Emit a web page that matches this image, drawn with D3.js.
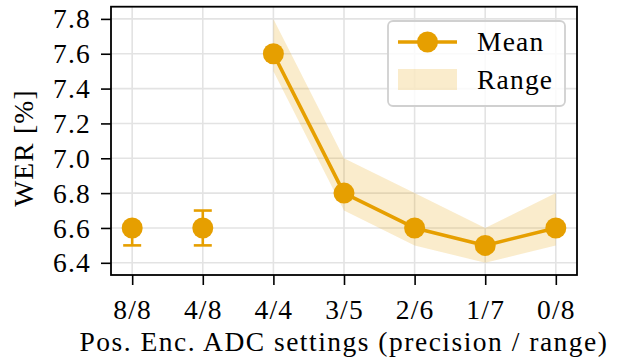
<!DOCTYPE html>
<html><head><meta charset="utf-8">
<script src="https://cdn.jsdelivr.net/npm/d3@7"></script>
<style>
html,body{margin:0;padding:0;background:#fff;}
svg text{font-family:"Liberation Serif","DejaVu Serif","Noto Serif",serif !important;fill:#000;}
</style></head>
<body><svg id="c" width="621" height="360"></svg>
<script>
const categories = ["8/8","4/8","4/4","3/5","2/6","1/7","0/8"];
const yTicks = [6.4,6.6,6.8,7.0,7.2,7.4,7.6,7.8];
// error-bar points
const errCats = ["8/8","4/8"];
const errMean = [6.6, 6.6];
const errLow = [6.5, 6.5];
const errHigh = [6.6, 6.7];
// mean line + range band
const lineCats = ["4/4","3/5","2/6","1/7","0/8"];
const meanVals = [7.6, 6.8, 6.6, 6.5, 6.6];
const rangeLow = [7.5, 6.7, 6.5, 6.4, 6.5];
const rangeHigh = [7.8, 7.0, 6.8, 6.6, 6.8];

const C = "#E69F00";
const L = 111, R = 577, T = 6.7, B = 275;
const svg = d3.select("#c");
const x = d3.scalePoint().domain(categories).range([L, R]).padding(0.3);
const y = d3.scaleLinear().domain([6.33, 7.87]).range([B, T]);
const FS = 27.5;
const LS = 1.2;
const FF = "'Liberation Serif','DejaVu Serif','Noto Serif',serif";

// grid
const g = svg.append("g");
g.selectAll(".gx").data(categories).join("line")
  .attr("x1", d => x(d)).attr("x2", d => x(d)).attr("y1", T).attr("y2", B)
  .attr("stroke", "#e3e3e3").attr("stroke-width", 1.6);
g.selectAll(".gy").data(yTicks).join("line")
  .attr("x1", L).attr("x2", R).attr("y1", d => y(d)).attr("y2", d => y(d))
  .attr("stroke", "#e3e3e3").attr("stroke-width", 1.6);

// band
const bandData = lineCats.map((c, i) => ({c, lo: rangeLow[i], hi: rangeHigh[i], m: meanVals[i]}));
svg.append("path").datum(bandData)
  .attr("d", d3.area().x(d => x(d.c)).y0(d => y(d.lo)).y1(d => y(d.hi)))
  .attr("fill", C).attr("fill-opacity", 0.2);
svg.append("path").datum(bandData)
  .attr("d", d3.line().x(d => x(d.c)).y(d => y(d.m)))
  .attr("fill", "none").attr("stroke", C).attr("stroke-width", 3.6).attr("stroke-linejoin", "round");
svg.selectAll(".mk").data(bandData).join("circle")
  .attr("cx", d => x(d.c)).attr("cy", d => y(d.m)).attr("r", 10.5).attr("fill", C);

// error bars
const errData = errCats.map((c, i) => ({c, m: errMean[i], lo: errLow[i], hi: errHigh[i]}));
const eg = svg.append("g").attr("stroke", C).attr("stroke-width", 2.6);
eg.selectAll(".ev").data(errData).join("line")
  .attr("x1", d => x(d.c)).attr("x2", d => x(d.c)).attr("y1", d => y(d.lo)).attr("y2", d => y(d.hi));
eg.selectAll(".cl").data(errData).join("line")
  .attr("x1", d => x(d.c) - 9).attr("x2", d => x(d.c) + 9).attr("y1", d => y(d.lo)).attr("y2", d => y(d.lo));
eg.selectAll(".ch").data(errData).join("line")
  .attr("x1", d => x(d.c) - 9).attr("x2", d => x(d.c) + 9).attr("y1", d => y(d.hi)).attr("y2", d => y(d.hi));
svg.selectAll(".em").data(errData).join("circle")
  .attr("cx", d => x(d.c)).attr("cy", d => y(d.m)).attr("r", 10.5).attr("fill", C);

// axes
const ax = svg.append("g").attr("transform", `translate(0,${B})`)
  .call(d3.axisBottom(x).tickSize(10).tickPadding(10));
const ay = svg.append("g").attr("transform", `translate(${L},0)`)
  .call(d3.axisLeft(y).tickValues(yTicks).tickFormat(d3.format(".1f")).tickSize(10).tickPadding(10));
[ax, ay].forEach(a => {
  a.attr("font-family", FF);
  a.select(".domain").remove();
  a.selectAll(".tick line").attr("stroke", "#000").attr("stroke-width", 1.6);
  a.selectAll(".tick text").attr("font-family", FF).attr("font-size", FS).attr("fill", "#000").attr("letter-spacing", LS);
});
ax.selectAll(".tick text").attr("dy", "0.88em");
ay.selectAll(".tick text").attr("dy", "0.33em");

// spines
svg.append("rect").attr("x", L).attr("y", T).attr("width", R - L).attr("height", B - T)
  .attr("fill", "none").attr("stroke", "#000").attr("stroke-width", 1.8);

// legend
const lg = svg.append("g").attr("font-family", FF);
lg.append("rect").attr("x", 388).attr("y", 21).attr("width", 177).attr("height", 85).attr("rx", 5)
  .attr("fill", "#fff").attr("fill-opacity", 0.8).attr("stroke", "#d0d0d0").attr("stroke-width", 1.8);
lg.append("line").attr("x1", 398).attr("x2", 457).attr("y1", 42).attr("y2", 42).attr("stroke", C).attr("stroke-width", 3.6);
lg.append("circle").attr("cx", 427.5).attr("cy", 42).attr("r", 10.5).attr("fill", C);
lg.append("rect").attr("x", 398).attr("y", 69).attr("width", 59).attr("height", 21).attr("fill", C).attr("fill-opacity", 0.2);
lg.append("text").attr("x", 477).attr("y", 42).attr("dy", "0.34em").attr("font-size", FS).attr("letter-spacing", LS).text("Mean");
lg.append("text").attr("x", 477).attr("y", 80).attr("dy", "0.34em").attr("font-size", FS).attr("letter-spacing", LS).text("Range");

// axis titles
svg.append("text").attr("x", 344).attr("y", 351).attr("text-anchor", "middle").attr("font-size", FS).attr("letter-spacing", 1.5)
  .attr("font-family", FF).text("Pos. Enc. ADC settings (precision / range)");
svg.append("text").attr("transform", "translate(33,148) rotate(-90)").attr("text-anchor", "middle").attr("font-size", FS).attr("letter-spacing", LS)
  .attr("font-family", FF).text("WER [%]");
</script></body></html>
